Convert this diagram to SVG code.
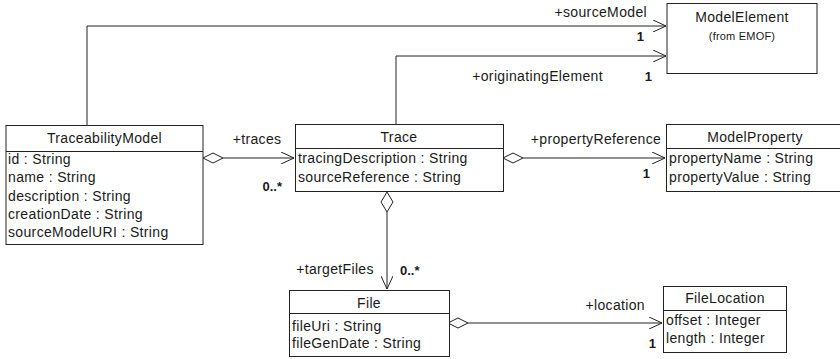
<svg xmlns="http://www.w3.org/2000/svg" width="840" height="359" viewBox="0 0 840 359">
<style>
text{font-family:"Liberation Sans",Arial,sans-serif;font-size:14px;letter-spacing:0.35px;fill:#1a1a1a}
.c{text-anchor:middle}
.m{font-weight:bold;font-size:13px;letter-spacing:0}
.s{font-size:11px;letter-spacing:0.2px}
.box{fill:#fff;stroke:#222;stroke-width:1}
.ln{fill:none;stroke:#222;stroke-width:1}
.dia{fill:#fff;stroke:#222;stroke-width:1}
</style>
<defs>
<marker id="open" viewBox="0 0 14 12" refX="13" refY="6" markerWidth="14" markerHeight="12" markerUnits="userSpaceOnUse" orient="auto">
<path d="M0,0 L13,6 L0,12" fill="none" stroke="#222" stroke-width="1"/>
</marker>
</defs>
<g id="connectors">
<polyline class="ln" points="87,125 87,26 666,26" marker-end="url(#open)"/>
<polyline class="ln" points="396,124 396,56 666,56" marker-end="url(#open)"/>
<line class="ln" x1="223" y1="158" x2="294" y2="158" marker-end="url(#open)"/>
<path class="dia" d="M203,158 L213,153 L223,158 L213,163 Z"/>
<line class="ln" x1="523" y1="158" x2="665" y2="158" marker-end="url(#open)"/>
<path class="dia" d="M503,158 L513,153 L523,158 L513,163 Z"/>
<line class="ln" x1="387" y1="212" x2="387" y2="289" marker-end="url(#open)"/>
<path class="dia" d="M387,192 L393,202 L387,212 L381,202 Z"/>
<line class="ln" x1="468" y1="323" x2="662" y2="323" marker-end="url(#open)"/>
<path class="dia" d="M448,323 L458,318 L468,323 L458,328 Z"/>
<text x="647" y="17" text-anchor="end">+sourceModel</text>
<text x="644" y="41" class="m" text-anchor="end">1</text>
<text x="603" y="81" text-anchor="end">+originatingElement</text>
<text x="652" y="81" class="m" text-anchor="end">1</text>
<text x="257" y="144" class="c">+traces</text>
<text x="282" y="191" class="m" text-anchor="end">0..*</text>
<text x="596" y="144" class="c">+propertyReference</text>
<text x="650" y="178" class="m" text-anchor="end">1</text>
<text x="335" y="274" class="c">+targetFiles</text>
<text x="400" y="275" class="m">0..*</text>
<text x="645" y="310" text-anchor="end">+location</text>
<text x="656" y="348" class="m" text-anchor="end">1</text>
</g>
<g id="ModelElement">
<rect class="box" x="667" y="3.5" width="150" height="70"/>
<text x="742" y="22" class="c">ModelElement</text>
<text x="742" y="40" class="c s">(from EMOF)</text>
</g>
<g id="TraceabilityModel">
<rect class="box" x="6" y="125.5" width="197" height="119"/>
<line class="ln" x1="6" y1="151.5" x2="203" y2="151.5"/>
<text x="104.5" y="143" class="c">TraceabilityModel</text>
<text x="8" y="164">id : String</text>
<text x="8" y="182">name : String</text>
<text x="8" y="201">description : String</text>
<text x="8" y="219">creationDate : String</text>
<text x="8" y="237">sourceModelURI : String</text>
</g>
<g id="Trace">
<rect class="box" x="295.5" y="124.5" width="208" height="67"/>
<line class="ln" x1="295" y1="148.5" x2="503" y2="148.5"/>
<text x="399" y="142" class="c">Trace</text>
<text x="298" y="163">tracingDescription : String</text>
<text x="298" y="182">sourceReference : String</text>
</g>
<g id="ModelProperty">
<rect class="box" x="666.5" y="124.5" width="178" height="67"/>
<line class="ln" x1="666" y1="148.5" x2="844" y2="148.5"/>
<text x="755" y="142" class="c">ModelProperty</text>
<text x="669" y="163">propertyName : String</text>
<text x="669" y="182">propertyValue : String</text>
</g>
<g id="File">
<rect class="box" x="289.5" y="290.5" width="160" height="66"/>
<line class="ln" x1="289" y1="313.5" x2="449" y2="313.5"/>
<text x="369" y="308" class="c">File</text>
<text x="292" y="331">fileUri : String</text>
<text x="292" y="348">fileGenDate : String</text>
</g>
<g id="FileLocation">
<rect class="box" x="663.5" y="286.5" width="123" height="66"/>
<line class="ln" x1="663" y1="310.5" x2="786" y2="310.5"/>
<text x="725" y="303" class="c">FileLocation</text>
<text x="666" y="325">offset : Integer</text>
<text x="666" y="343">length : Integer</text>
</g>
</svg>
